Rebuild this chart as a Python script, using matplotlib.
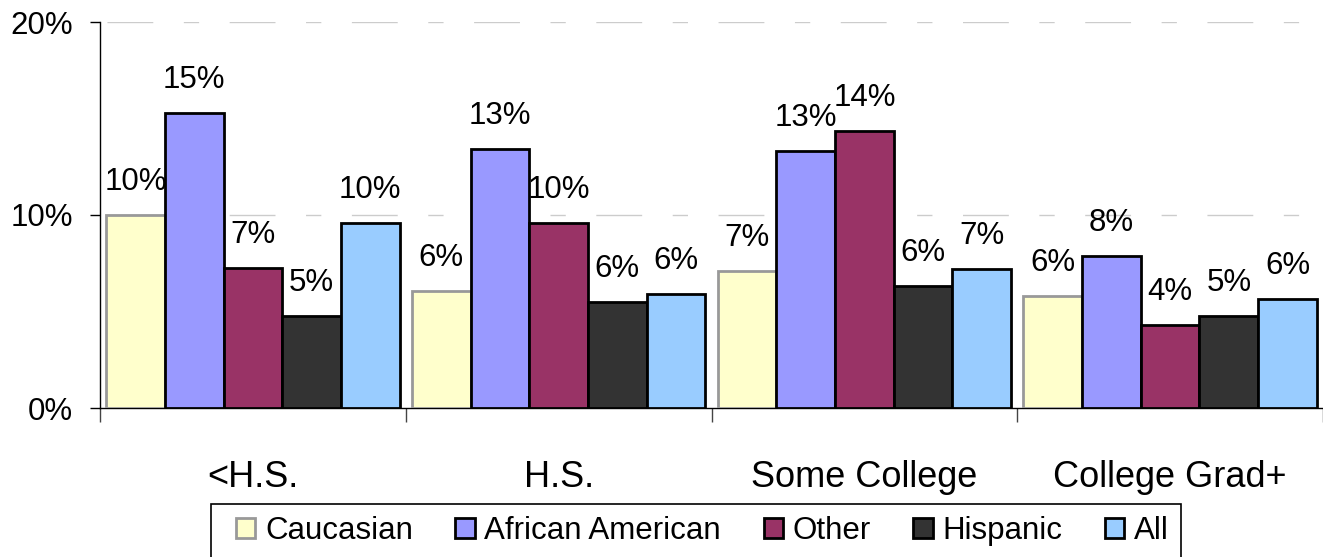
import matplotlib
matplotlib.use("Agg")
import matplotlib.pyplot as plt
import numpy as np
from matplotlib.patches import Rectangle

plt.rcParams['font.family'] = ['Liberation Sans', 'DejaVu Sans']

categories = ['<H.S.', 'H.S.', 'Some College', 'College Grad+']
series = ['Caucasian', 'African American', 'Other', 'Hispanic', 'All']
caucasian = [10.0, 6.05, 7.1, 5.8]
african_american = [15.3, 13.4, 13.3, 7.9]
other = [7.25, 9.6, 14.35, 4.3]
hispanic = [4.75, 5.5, 6.3, 4.75]
all_groups = [9.6, 5.9, 7.2, 5.65]

values = [caucasian, african_american, other, hispanic, all_groups]
colors = ['#FFFFCC', '#9999FF', '#993366', '#333333', '#99CCFF']
edges = ['#999999', 'black', 'black', 'black', 'black']

fig = plt.figure(figsize=(13.23, 5.57), dpi=100)
ax = fig.add_axes([100/1323, 149/557, 1223/1323, 386/557])

x = np.arange(len(categories))
w = 0.192
for i in range(len(series)):
    xs = x + (i - 2) * w
    ax.bar(xs, values[i], width=w, color=colors[i], edgecolor=edges[i],
           linewidth=2.0, label=series[i], zorder=3)
    for xi, v in zip(xs, values[i]):
        ax.annotate('%d%%' % round(v), xy=(xi, v), xytext=(0, 18),
                    textcoords='offset points', ha='center', va='baseline',
                    fontsize=22.5, zorder=4)

ax.set_xlim(-0.5, 3.5)
ax.set_ylim(0, 20)

# dashed gridlines at 10% and 20%
for j in [10, 20]:
    ax.axhline(j, color='#CCCCCC', linewidth=1.0,
               linestyle=(28, (11, 22, 33, 22)), zorder=1)

ax.spines['top'].set_visible(False)
ax.spines['right'].set_visible(False)
ax.spines['left'].set_linewidth(1.0)
ax.spines['bottom'].set_linewidth(1.0)

ax.set_yticks([0, 10, 20])
ax.set_yticklabels(['0%', '10%', '20%'])
ax.tick_params(axis='y', direction='out', length=7.2, width=1.0, pad=12,
               labelsize=22.5)

ax.set_xticks(np.arange(-0.5, 4, 1.0))
ax.set_xticklabels([])
ax.tick_params(axis='x', direction='out', length=10, width=1.0, color='#444444')

for xi, c in zip(x, categories):
    ax.text(xi, -0.2047, c, transform=ax.get_xaxis_transform(), ha='center',
            va='baseline', fontsize=26)

# legend box, bottom edge runs off the figure
fig.patches.append(Rectangle((211/1323, -0.05), 970/1323, 0.05 + 53/557,
                             transform=fig.transFigure, fill=False,
                             edgecolor='black', linewidth=1.2))
leg = fig.legend(loc='center left', bbox_to_anchor=(236/1323, 26/557),
                 ncol=5, frameon=False, fontsize=22.5, borderpad=0,
                 borderaxespad=0, handlelength=0.61, handleheight=0.61,
                 handletextpad=0.32, columnspacing=1.36)

plt.savefig('out.png', dpi=100)
